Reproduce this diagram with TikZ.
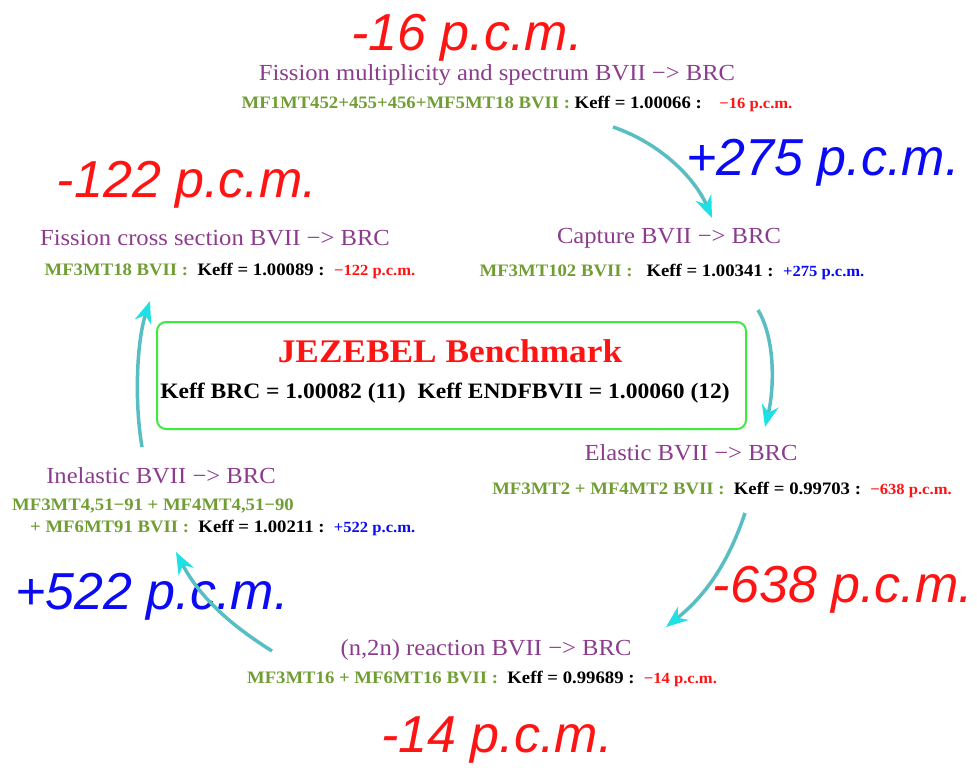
\documentclass[tikz,border=0pt]{standalone}
\usepackage{fontspec}
\setmainfont{Liberation Serif}[FakeStretch=1.07]
\newfontfamily\arial{Liberation Sans}
\usetikzlibrary{arrows.meta}
\definecolor{ttl}{RGB}{140,60,140}
\definecolor{grn}{RGB}{112,158,52}
\definecolor{rd}{RGB}{255,20,20}
\definecolor{bl}{RGB}{10,10,245}
\definecolor{shaft}{RGB}{88,190,196}
\definecolor{tipc}{RGB}{30,225,230}
\definecolor{boxg}{RGB}{60,235,60}
\tikzset{
  big/.style={font=\arial\itshape\fontsize{52}{56}\selectfont, inner sep=0pt},
  ttlnode/.style={text=ttl, font=\fontsize{23}{26}\selectfont, inner sep=0pt},
  det/.style={font=\bfseries\fontsize{17.5}{20}\selectfont, inner sep=0pt, align=left},
  conn/.style={shaft, line width=3.5pt, -{Stealth[length=22pt,width=17pt,color=tipc]}},
}
\newcommand{\gr}[1]{\textcolor{grn}{#1}}
\newcommand{\sm}[2]{\textcolor{#1}{\fontsize{15.5}{16}\selectfont #2}}
\begin{document}
\begin{tikzpicture}[x=1pt,y=-1pt]
\useasboundingbox (0,0) rectangle (977,768);
% big labels
\node[big, text=rd] (l16) at (467,38) {-16 p.c.m.};
\node[big, text=bl] (l275) at (823,163) {+275 p.c.m.};
\node[big, text=rd] (l122) at (187,185) {-122 p.c.m.};
\node[big, text=rd] (l638) at (843,590) {-638 p.c.m.};
\node[big, text=bl] (l522) at (152,597) {+522 p.c.m.};
\node[big, text=rd] (l14) at (497,740) {-14 p.c.m.};
% titles
\node[ttlnode] (t1) at (497,75) {Fission multiplicity and spectrum BVII −> BRC};
\node[det] (d1) at (517,104) {\gr{MF1MT452+455+456+MF5MT18 BVII :} Keff = 1.00066 :\quad\sm{rd}{−16 p.c.m.}};
\node[ttlnode] (t2) at (215,238) {Fission cross section BVII −> BRC};
\node[det] (d2) at (230,271) {\gr{MF3MT18 BVII :}\ \ Keff = 1.00089 :\ \ \sm{rd}{−122 p.c.m.}};
\node[ttlnode] (t3) at (669,238) {Capture BVII −> BRC};
\node[det] (d3) at (672,272) {\gr{MF3MT102 BVII :}\ \ \ Keff = 1.00341 :\ \ \sm{bl}{+275 p.c.m.}};
\node[ttlnode] (t4) at (691,453) {Elastic BVII −> BRC};
\node[det] (d4) at (722,490) {\gr{MF3MT2 + MF4MT2 BVII :}\ \ Keff = 0.99703 :\ \ \sm{rd}{−638 p.c.m.}};
\node[ttlnode] (t5) at (486,650) {(n,2n) reaction BVII −> BRC};
\node[det] (d5) at (482,679) {\gr{MF3MT16 + MF6MT16 BVII :}\ \ Keff = 0.99689 :\ \ \sm{rd}{−14 p.c.m.}};
\node[ttlnode] (t6) at (161,476) {Inelastic BVII −> BRC};
\node[det, anchor=west] (d6a) at (12,506) {\gr{MF3MT4,51−91 + MF4MT4,51−90}};
\node[det, anchor=west] (d6b) at (30,528) {\gr{+ MF6MT91 BVII :}\ \ Keff = 1.00211 :\ \ \sm{bl}{+522 p.c.m.}};
% central box
\node[draw=boxg, line width=2pt, rounded corners=9pt, minimum width=589pt, minimum height=107pt, inner sep=0pt] (box) at (451.5,375.5) {};
\node[text=rd, font=\bfseries\fontsize{33}{36}\selectfont, inner sep=0pt] (jz) at (450,351) {JEZEBEL Benchmark};
\node[font=\bfseries\fontsize{22}{24}\selectfont, inner sep=0pt] (kf) at (445,393) {Keff BRC = 1.00082 (11)\ \ Keff ENDFBVII = 1.00060 (12)};
% arrow end points
\coordinate (a1s) at (613,127); \coordinate (a1e) at (712,218);
\coordinate (a2s) at (758,310); \coordinate (a2e) at (765,427);
\coordinate (a3s) at (745,513); \coordinate (a3e) at (666,627);
\coordinate (a4s) at (272,651); \coordinate (a4e) at (176,552);
\coordinate (a5s) at (142,447); \coordinate (a5e) at (150,301);
\draw[conn] (a1s) .. controls (660,143) and (695,178) .. (a1e);
\draw[conn] (a2s) .. controls (776,340) and (774,390) .. (a2e);
\draw[conn] (a3s) .. controls (726,570) and (700,600) .. (a3e);
\draw[conn] (a4s) .. controls (232,626) and (200,598) .. (a4e);
\draw[conn] (a5s) .. controls (134,400) and (137,340) .. (a5e);
\end{tikzpicture}
\end{document}
